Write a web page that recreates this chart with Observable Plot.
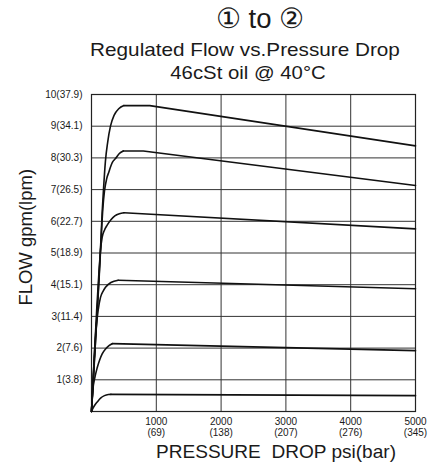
<!DOCTYPE html>
<html><head><meta charset="utf-8">
<script src="https://cdn.jsdelivr.net/npm/d3@7"></script>
<script src="https://cdn.jsdelivr.net/npm/@observablehq/plot@0.6"></script>
<style>
body{margin:0;background:#fff;}
#wrap{position:relative;width:439px;height:464px;font-family:"Liberation Sans",Arial,sans-serif;color:#1a1a1a;overflow:hidden;}
.t{position:absolute;width:400px;text-align:center;white-space:pre;}
#chart{position:absolute;left:0;top:0;}
</style></head><body>
<div id="wrap">
  <div id="chart"></div>
  <div class="t" id="t1" style="left:60px;top:5px;font-size:27.5px;line-height:27.5px;">① to ②</div>
  <div class="t" id="t2" style="left:44.5px;top:41px;font-size:18.5px;line-height:18.5px;transform:scaleX(1.12);">Regulated Flow vs.Pressure Drop</div>
  <div class="t" id="t3" style="left:47.5px;top:63.6px;font-size:18.5px;line-height:18.5px;transform:scaleX(1.1);">46cSt oil @ 40°C</div>
  <div class="t" id="xl" style="left:76px;top:442.6px;font-size:18.5px;line-height:18.5px;transform:scaleX(1.03);">PRESSURE  DROP psi(bar)</div>
  <div class="t" id="yl" style="width:200px;left:-74px;top:228.3px;font-size:18.5px;line-height:18.5px;height:18.5px;transform:rotate(-90deg);transform-origin:center;">FLOW gpm(lpm)</div>
</div>
<script>
// tick values and labels
const yTicks = [1, 2, 3, 4, 5, 6, 7, 8, 9, 10];
const yLabels = ["1(3.8)", "2(7.6)", "3(11.4)", "4(15.1)", "5(18.9)", "6(22.7)", "7(26.5)", "8(30.3)", "9(34.1)", "10(37.9)"];
const xTicks = [1000, 2000, 3000, 4000, 5000];
const xLabelsPsi = ["1000", "2000", "3000", "4000", "5000"];
const xLabelsBar = ["(69)", "(138)", "(207)", "(276)", "(345)"];
const yGrid = [1, 2, 3, 4, 5, 6, 7, 8, 9];
const xGrid = [1000, 2000, 3000, 4000];

// curves: pressure drop (psi) and flow (gpm); rising part and regulated part
const c10RisePsi = [0, 40, 88, 120, 145, 165, 185, 215, 250, 293, 350, 420, 500];
const c10RiseGpm = [0, 1.4, 3.2, 4.4, 5.4, 6.3, 7.0, 7.9, 8.5, 9.0, 9.35, 9.55, 9.65];
const c10TailPsi = [500, 900, 5000];
const c10TailGpm = [9.65, 9.65, 8.38];
const c8RisePsi = [0, 40, 88, 120, 150, 175, 200, 235, 267, 320, 370, 430, 490];
const c8RiseGpm = [0, 1.5, 3.1, 4.3, 5.5, 6.4, 6.95, 7.35, 7.55, 7.85, 7.98, 8.14, 8.22];
const c8TailPsi = [490, 800, 5000];
const c8TailGpm = [8.22, 8.22, 7.13];
const c6RisePsi = [0, 40, 80, 115, 139, 165, 200, 242, 300, 360, 430, 500];
const c6RiseGpm = [0, 1.6, 3.2, 4.4, 5.08, 5.5, 5.72, 5.88, 6.05, 6.17, 6.24, 6.27];
const c6TailPsi = [500, 5000];
const c6TailGpm = [6.27, 5.76];
const c4RisePsi = [0, 35, 62, 103, 139, 180, 216, 300, 412];
const c4RiseGpm = [0, 1.4, 2.4, 3.2, 3.6, 3.8, 3.92, 4.07, 4.14];
const c4TailPsi = [412, 5000];
const c4TailGpm = [4.14, 3.87];
const c2RisePsi = [0, 20, 50, 88, 130, 165, 220, 270, 320];
const c2RiseGpm = [0, 0.66, 1.05, 1.38, 1.65, 1.82, 1.98, 2.08, 2.14];
const c2TailPsi = [320, 5000];
const c2TailGpm = [2.14, 1.92];
const c05RisePsi = [0, 30, 60, 88, 140, 200, 260, 300];
const c05RiseGpm = [0, 0.13, 0.23, 0.3, 0.42, 0.5, 0.535, 0.54];
const c05TailPsi = [300, 5000];
const c05TailGpm = [0.54, 0.5];

const rises = [
  ["10", c10RisePsi, c10RiseGpm], ["8", c8RisePsi, c8RiseGpm], ["6", c6RisePsi, c6RiseGpm],
  ["4", c4RisePsi, c4RiseGpm], ["2", c2RisePsi, c2RiseGpm], ["0.5", c05RisePsi, c05RiseGpm]
];
const tails = [
  ["10", c10TailPsi, c10TailGpm], ["8", c8TailPsi, c8TailGpm], ["6", c6TailPsi, c6TailGpm],
  ["4", c4TailPsi, c4TailGpm], ["2", c2TailPsi, c2TailGpm], ["0.5", c05TailPsi, c05TailGpm]
];
const toRows = list => list.flatMap(([s, xs, ys]) => xs.map((x, i) => ({series: s, psi: x, gpm: ys[i]})));
const riseRows = toRows(rises);
const tailRows = toRows(tails);
const yMap = new Map(yTicks.map((t, i) => [t, yLabels[i]]));
const xMap = new Map(xTicks.map((t, i) => [t, xLabelsPsi[i] + "\n" + xLabelsBar[i]]));

const chart = Plot.plot({
  width: 439,
  height: 464,
  marginTop: 94,
  marginBottom: 53,
  marginLeft: 91,
  marginRight: 24,
  style: {fontFamily: "Liberation Sans, Arial, sans-serif", fontSize: "10px", color: "#1a1a1a", background: "#fff"},
  x: {domain: [0, 5000]},
  y: {domain: [0, 10]},
  marks: [
    Plot.ruleY(yGrid, {stroke: "#333", strokeWidth: 1}),
    Plot.ruleX(xGrid, {stroke: "#333", strokeWidth: 1}),
    Plot.frame({stroke: "#222", strokeWidth: 1.2}),
    Plot.line(riseRows, {x: "psi", y: "gpm", z: "series", curve: "monotone-x", stroke: "#111", strokeWidth: 1.6}),
    Plot.line(tailRows, {x: "psi", y: "gpm", z: "series", curve: "linear", stroke: "#111", strokeWidth: 1.6}),
    Plot.axisY({ticks: yTicks, tickFormat: d => yMap.get(d), tickSize: 0, tickPadding: 9, label: null, fontSize: 10}),
    Plot.axisX({ticks: xTicks, tickFormat: d => xMap.get(d), tickSize: 0, tickPadding: 6, label: null, fontSize: 10, lineHeight: 1.1})
  ]
});
document.getElementById("chart").appendChild(chart);
</script>
</body></html>
